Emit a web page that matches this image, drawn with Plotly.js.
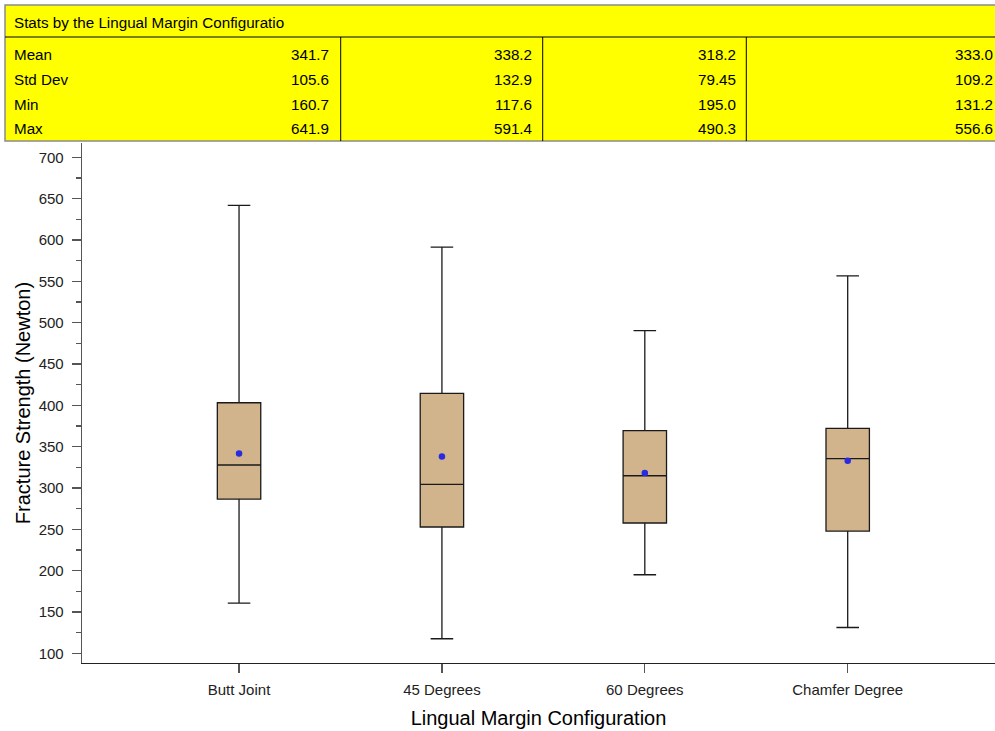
<!DOCTYPE html>
<html>
<head>
<meta charset="utf-8">
<script src="https://cdn.plot.ly/plotly-3.0.1.min.js"></script>
<style>html,body{margin:0;padding:0;background:#fff}#chart{width:995px;height:731px}</style>
</head>
<body>
<div id="chart"></div>
<script>
// ---- data ----
const categories = ['Butt Joint', '45 Degrees', '60 Degrees', 'Chamfer Degree'];
const meanVals = [341.7, 338.2, 318.2, 333.0];
const sdVals = [105.6, 132.9, 79.45, 109.2];
const minVals = [160.7, 117.6, 195.0, 131.2];
const maxVals = [641.9, 591.4, 490.3, 556.6];
const q1Vals = [286.6, 252.8, 257.6, 247.9];
const medianVals = [327.8, 304.4, 314.8, 335.4];
const q3Vals = [403.1, 414.5, 369.3, 372.2];
const tableTitle = 'Stats by the Lingual Margin Configuratio';
const rowLabels = ['Mean', 'Std Dev', 'Min', 'Max'];
const xTitle = 'Lingual Margin Configuration';
const yTitle = 'Fracture Strength (Newton)';

// ---- layout helpers ----
const W = 995, H = 731, ML = 82, MR = 0, MT = 143, MB = 68;
const PW = W - ML - MR, PH = H - MT - MB;
const px = v => (v - ML) / PW;
const py = v => (H - MB - v) / PH;
const FONT = 'Liberation Sans, Arial, sans-serif';

const traces = [
  {
    type: 'box',
    x: categories,
    q1: q1Vals,
    median: medianVals,
    q3: q3Vals,
    lowerfence: minVals,
    upperfence: maxVals,
    boxpoints: false,
    width: 0.214,
    whiskerwidth: 0.52,
    fillcolor: '#D2B48C',
    line: {color: '#1a1a1a', width: 1.3},
    hoverinfo: 'skip',
    showlegend: false
  },
  {
    type: 'scatter',
    mode: 'markers',
    x: categories,
    y: meanVals,
    marker: {color: '#2a2ae0', size: 6.5},
    hoverinfo: 'skip',
    showlegend: false
  }
];

// table shapes
const shapes = [];
const tblL = 5, tblR = 1010, tblT = 5, tblB = 141, tblH = 37;
shapes.push({type: 'rect', xref: 'paper', yref: 'paper', x0: px(tblL), x1: px(tblR), y0: py(tblB), y1: py(tblT),
  fillcolor: '#FFFF00', line: {color: '#8a8a8a', width: 1.5}, layer: 'above'});
shapes.push({type: 'line', xref: 'paper', yref: 'paper', x0: px(tblL), x1: px(tblR), y0: py(tblH), y1: py(tblH),
  line: {color: '#000', width: 1}, layer: 'above'});
const colDividers = [340.7, 542.7, 746.3];
const colRights = [331, 534, 737.5, 994.5];
colDividers.forEach(d => shapes.push({type: 'line', xref: 'paper', yref: 'paper', x0: px(d), x1: px(d),
  y0: py(tblB), y1: py(tblH), line: {color: '#000', width: 1}, layer: 'above'}));

const TF = 15.2;
const annotations = [];
annotations.push({xref: 'paper', yref: 'paper', x: px(12), y: py(22.5), xanchor: 'left', yanchor: 'middle',
  text: tableTitle, showarrow: false, font: {family: FONT, size: TF, color: '#000'}});
const rowY = [55, 79.5, 104, 128];
const rows = [meanVals, sdVals, minVals, maxVals];
rowLabels.forEach((lab, r) => {
  annotations.push({xref: 'paper', yref: 'paper', x: px(12), y: py(rowY[r]), xanchor: 'left', yanchor: 'middle',
    text: lab, showarrow: false, font: {family: FONT, size: TF, color: '#000'}});
  rows[r].forEach((v, c) => {
    annotations.push({xref: 'paper', yref: 'paper', x: px(colRights[c]), y: py(rowY[r]), xanchor: 'right', yanchor: 'middle',
      text: v.toPrecision(4), showarrow: false, font: {family: FONT, size: TF, color: '#000'}});
  });
});

const layout = {
  width: W, height: H,
  margin: {l: ML, r: MR, t: MT, b: MB, pad: 0},
  paper_bgcolor: '#fff', plot_bgcolor: '#fff',
  font: {family: FONT, color: '#222'},
  showlegend: false,
  xaxis: {
    type: 'category',
    range: [-0.774, 3.726],
    showgrid: false, zeroline: false,
    showline: true, linecolor: '#222', linewidth: 1.3,
    ticks: 'outside', ticklen: 9, tickcolor: '#555', tickwidth: 1.3,
    ticklabelstandoff: 4,
    tickfont: {family: FONT, size: 15, color: '#222'},
    title: {text: xTitle, font: {family: FONT, size: 20, color: '#000'}, standoff: 13}
  },
  yaxis: {
    range: [88.27, 717.3],
    tick0: 100, dtick: 50,
    showgrid: false, zeroline: false,
    showline: true, linecolor: '#555', linewidth: 1.3,
    ticks: 'outside', ticklen: 9, tickcolor: '#555', tickwidth: 1.3,
    ticklabelstandoff: 5,
    minor: {dtick: 25, tick0: 100, ticks: 'outside', ticklen: 5, tickcolor: '#555', tickwidth: 1.2, showgrid: false},
    tickfont: {family: FONT, size: 15, color: '#222'},
    title: {text: yTitle, font: {family: FONT, size: 20, color: '#000'}, standoff: 2}
  },
  shapes: shapes,
  annotations: annotations
};

Plotly.newPlot('chart', traces, layout, {displayModeBar: false, staticPlot: true});
</script>
</body>
</html>
